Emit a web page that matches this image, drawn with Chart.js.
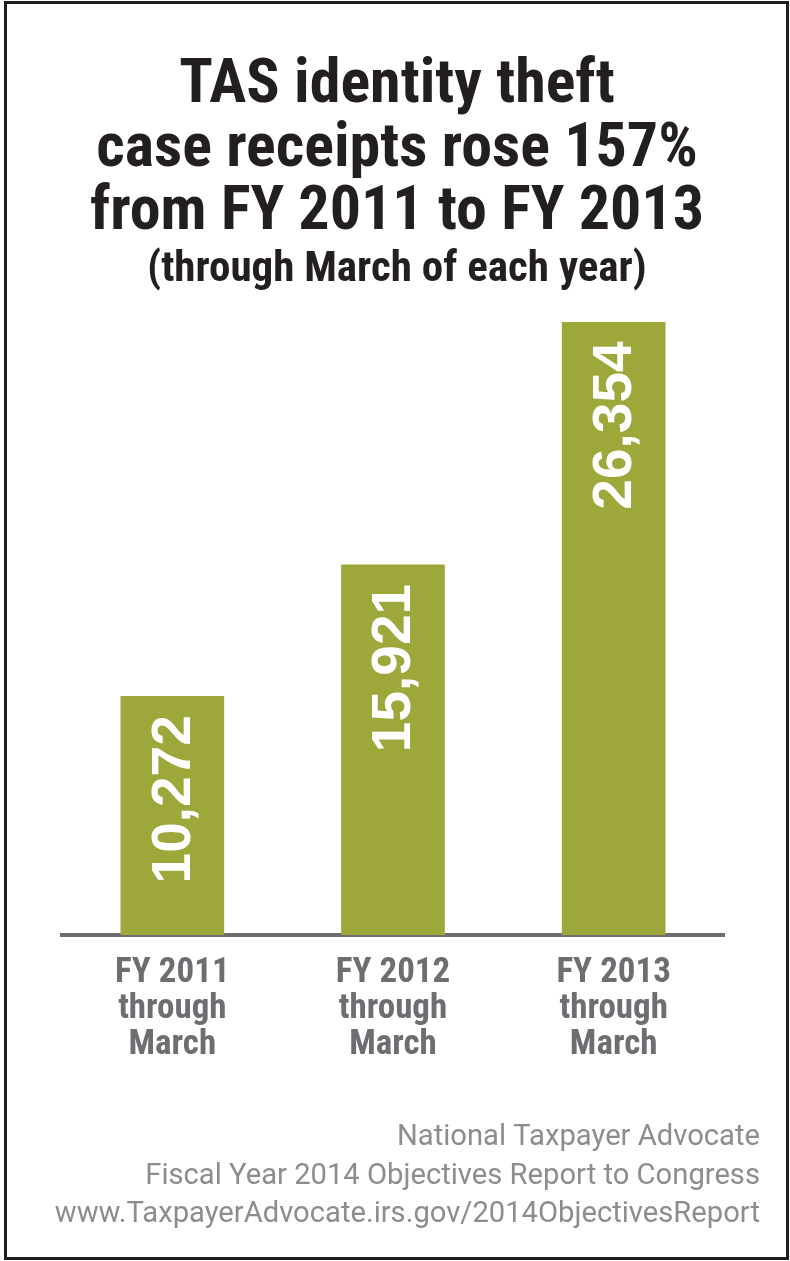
<!DOCTYPE html>
<html>
<head>
<meta charset="utf-8">
<script src="https://cdn.jsdelivr.net/npm/chart.js@4.4.0/dist/chart.umd.min.js"></script>
<style>
    html, body { margin: 0; padding: 0; background: #ffffff; }
    #wrap { position: relative; width: 790px; height: 1261px; }
    #chart { position: absolute; left: 0; top: 0; }
    #frame {
        position: absolute; left: 4px; top: 1px; width: 785px; height: 1259px;
        border: 3px solid #1d1d1b; box-sizing: border-box; pointer-events: none;
    }
</style>
</head>
<body>
<div id="wrap">
    <canvas id="chart" width="790" height="1261"></canvas>
    <div id="frame"></div>
</div>
<script>
const categories = [
    ["FY 2011", "through", "March"],
    ["FY 2012", "through", "March"],
    ["FY 2013", "through", "March"],
];
const receipts = [10272, 15921, 26354];

const titleLines = [
    "TAS identity theft",
    "case receipts rose 157%",
    "from FY 2011 to FY 2013",
];
const subtitleText = "(through March of each year)";
const sourceLines = [
    "National Taxpayer Advocate",
    "Fiscal Year 2014 Objectives Report to Congress",
    "www.TaxpayerAdvocate.irs.gov/2014ObjectivesReport",
];

const condensed = '"Roboto Condensed", "DejaVu Sans Condensed", sans-serif';

// white rotated numbers inside the top of each bar
const barLabels = {
    id: "barLabels",
    afterDatasetsDraw(chart) {
        const ctx = chart.ctx;
        const meta = chart.getDatasetMeta(0);
        meta.data.forEach((bar, i) => {
            ctx.save();
            ctx.translate(bar.x + 2, bar.y + 19);
            ctx.rotate(-Math.PI / 2);
            ctx.font = 'bold 55px "Liberation Sans", Arial, sans-serif';
            ctx.fillStyle = "#ffffff";
            ctx.textAlign = "right";
            ctx.textBaseline = "middle";
            ctx.fillText(receipts[i].toLocaleString("en-US"), 0, 0);
            ctx.restore();
        });
    },
};

// source note, bottom right
const sourceNote = {
    id: "sourceNote",
    afterDraw(chart) {
        const ctx = chart.ctx;
        ctx.save();
        ctx.font = '29.2px Roboto, "Liberation Sans", sans-serif';
        ctx.fillStyle = "#8b8d90";
        ctx.textAlign = "right";
        ctx.textBaseline = "alphabetic";
        sourceLines.forEach((line, i) => {
            ctx.fillText(line, 760, 1145 + i * 38.7);
        });
        ctx.restore();
    },
};

new Chart(document.getElementById("chart"), {
    type: "bar",
    data: {
        labels: categories,
        datasets: [
            {
                label: "Case receipts",
                data: receipts,
                backgroundColor: "#9da73a",
                borderWidth: 0,
                barThickness: 103,
            },
        ],
    },
    options: {
        responsive: false,
        animation: false,
        layout: { padding: { left: 62, right: 58, top: 0, bottom: 0 } },
        scales: {
            x: {
                grid: { display: false, drawTicks: false },
                border: { display: true, color: "#6d6e71", width: 4 },
                ticks: {
                    color: "#6d6e71",
                    font: { family: condensed, size: 35, weight: "bold", lineHeight: 1.03 },
                    padding: 20,
                    maxRotation: 0,
                    autoSkip: false,
                },
                afterFit(scale) {
                    scale.height = 326;
                },
            },
            y: {
                position: "right",
                min: 0,
                max: 27500,
                grid: { display: false, drawTicks: false },
                border: { display: false },
                ticks: { display: false },
                afterFit(scale) {
                    scale.width = 8;
                },
            },
        },
        plugins: {
            legend: { display: false },
            tooltip: { enabled: false },
            title: {
                display: true,
                text: titleLines,
                color: "#231f20",
                font: { family: condensed, size: 62, weight: "bold", lineHeight: 1.024 },
                padding: { top: 55, bottom: 0 },
            },
            subtitle: {
                display: true,
                text: subtitleText,
                color: "#231f20",
                font: { family: condensed, size: 43, weight: "bold", lineHeight: 1.17 },
                padding: { top: 0, bottom: 0 },
            },
        },
    },
    plugins: [barLabels, sourceNote],
});
</script>
</body>
</html>
